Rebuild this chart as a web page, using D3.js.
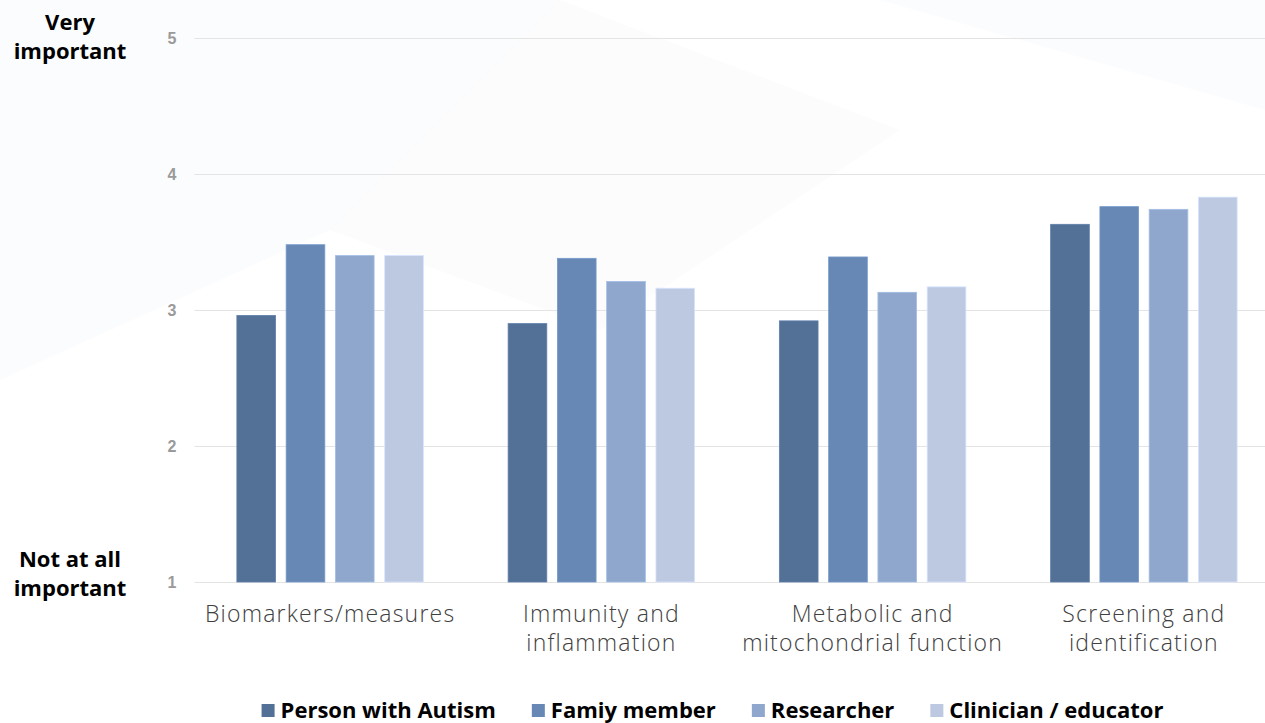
<!DOCTYPE html>
<html>
<head>
<meta charset="utf-8">
<script src="https://cdn.jsdelivr.net/npm/d3@7"></script>
<style>
  html, body { margin: 0; padding: 0; background: #ffffff; }
  svg { display: block; }
</style>
</head>
<body>
<svg id="chart" width="1265" height="723"></svg>
<script>
// ---- data ----
const categories = [
  ["Biomarkers/measures"],
  ["Immunity and", "inflammation"],
  ["Metabolic and", "mitochondrial function"],
  ["Screening and", "identification"]
];
const seriesNames = ["Person with Autism", "Famiy member", "Researcher", "Clinician / educator"];
const personWithAutism = [2.96, 2.90, 2.92, 3.63];
const familyMember     = [3.48, 3.38, 3.39, 3.76];
const researcher       = [3.40, 3.21, 3.13, 3.74];
const clinicianEducator= [3.40, 3.16, 3.17, 3.83];
const yTicks = [1, 2, 3, 4, 5];
const colors = ["#537096", "#6788B4", "#8FA7CC", "#BDC9E1"];

const seriesValues = [personWithAutism, familyMember, researcher, clinicianEducator];

// ---- layout ----
const svg = d3.select("#chart");
const W = 1265, H = 723;
const plotLeft = 194.5, plotRight = 1279.5, plotTop = 38, plotBottom = 582;

// background watermark shapes (very faint)
const bg = svg.append("g");
bg.append("rect").attr("width", W).attr("height", H).attr("fill", "#ffffff");
bg.append("path").attr("d", "M0,0 L1265,0 L1265,110 L880,0 Z").attr("fill", "#f4f6fa").attr("opacity", 0.35);
bg.append("path").attr("d", "M0,0 L560,0 L330,230 L0,380 Z").attr("fill", "#f5f7fa").attr("opacity", 0.4);
bg.append("path").attr("d", "M330,230 L560,0 L900,130 L600,330 Z").attr("fill", "#f7f8fb").attr("opacity", 0.4);

const x0 = d3.scaleBand()
  .domain(d3.range(categories.length))
  .range([plotLeft, plotRight])
  .paddingInner(0).paddingOuter(0);

const x1 = d3.scaleBand()
  .domain(d3.range(seriesNames.length))
  .range([0, x0.bandwidth()])
  .paddingInner(0.215)
  .paddingOuter(0.86);

const y = d3.scaleLinear().domain([1, 5]).range([plotBottom, plotTop]);

// gridlines
const grid = svg.append("g")
  .attr("transform", `translate(${plotLeft},0)`)
  .call(d3.axisLeft(y).tickValues(yTicks).tickSize(-(W - plotLeft)).tickFormat(""));
grid.select(".domain").remove();
grid.selectAll(".tick line").attr("stroke", "#e4e4e4").attr("stroke-width", 1.2);

// y tick labels
const yAxis = svg.append("g")
  .attr("transform", `translate(${plotLeft},0)`)
  .call(d3.axisLeft(y).tickValues(yTicks).tickSize(0).tickPadding(18).tickFormat(d3.format("d")));
yAxis.select(".domain").remove();
yAxis.selectAll("text")
  .attr("font-family", "'Liberation Sans', Arial, sans-serif")
  .attr("font-weight", "bold")
  .attr("font-size", 16)
  .attr("fill", "#9a9a9a");

// bars
const groups = svg.append("g").selectAll("g")
  .data(categories.map((c, i) => i))
  .join("g")
  .attr("transform", i => `translate(${x0(i)},0)`);

groups.selectAll("rect")
  .data(i => seriesValues.map((vals, s) => ({ s, v: vals[i] })))
  .join("rect")
  .attr("x", d => x1(d.s))
  .attr("width", x1.bandwidth())
  .attr("y", d => y(d.v))
  .attr("height", d => y(1) - y(d.v))
  .attr("fill", d => colors[d.s])
  .attr("stroke", d => d3.color(colors[d.s]).brighter(0.35))
  .attr("stroke-width", 0.8);

// category labels
const catFont = "'Open Sans', 'Lato', sans-serif";
const xLabels = svg.append("g");
categories.forEach((lines, i) => {
  const cx = x0(i) + x0.bandwidth() / 2;
  const t = xLabels.append("text")
    .attr("x", cx)
    .attr("y", 622)
    .attr("text-anchor", "middle")
    .attr("font-family", catFont)
    .attr("font-weight", 300)
    .attr("font-size", 23)
    .attr("letter-spacing", 1.2)
    .attr("fill", "#404040");
  lines.forEach((ln, k) => {
    t.append("tspan").attr("x", cx).attr("dy", k === 0 ? 0 : 29).text(ln);
  });
});

// left anchor labels
const anchorFont = "'Open Sans', 'Liberation Sans', sans-serif";
function anchorLabel(lines, yFirst) {
  const t = svg.append("text")
    .attr("x", 70).attr("y", yFirst)
    .attr("text-anchor", "middle")
    .attr("font-family", anchorFont)
    .attr("font-weight", "bold")
    .attr("font-size", 22)
    .attr("fill", "#000000");
  lines.forEach((ln, k) => t.append("tspan").attr("x", 70).attr("dy", k === 0 ? 0 : 28.5).text(ln));
}
anchorLabel(["Very", "important"], 30);
anchorLabel(["Not at all", "important"], 567);

// legend
const legend = svg.append("g");
const legendY = 718;
const items = legend.selectAll("g").data(seriesNames).join("g");
items.append("rect")
  .attr("width", 13).attr("height", 13)
  .attr("y", legendY - 14)
  .attr("fill", (d, i) => colors[i]);
items.append("text")
  .attr("x", 19)
  .attr("y", legendY)
  .attr("font-family", anchorFont)
  .attr("font-weight", "bold")
  .attr("font-size", 22)
  .attr("fill", "#000000")
  .text(d => d);
let widths = [];
items.each(function() { widths.push(19 + d3.select(this).select("text").node().getComputedTextLength()); });
const gap = 36;
const total = d3.sum(widths) + gap * (widths.length - 1);
let cur = 712.5 - total / 2;
items.attr("transform", (d, i) => { const t = `translate(${cur},0)`; cur += widths[i] + gap; return t; });
</script>
</body>
</html>
